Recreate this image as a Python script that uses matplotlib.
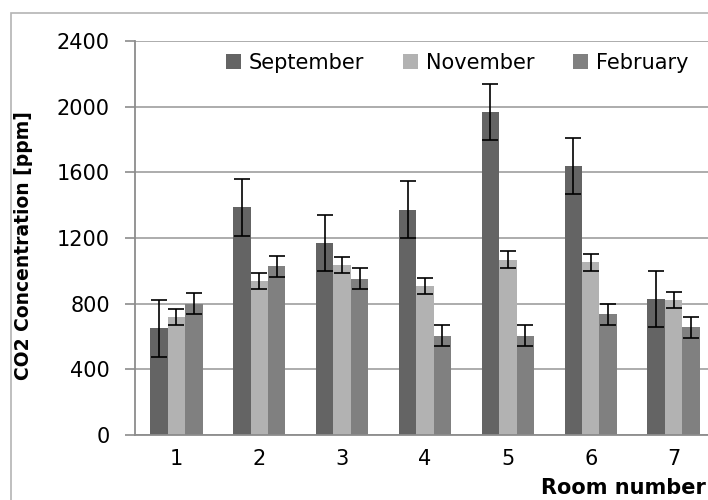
import numpy as np
import matplotlib.pyplot as plt
from matplotlib.patches import Rectangle

rooms = ['1', '2', '3', '4', '5', '6', '7']
series = ['September', 'November', 'February']
september = [650, 1387, 1170, 1373, 1969, 1638, 828]
november = [720, 938, 1035, 907, 1069, 1051, 822]
february = [800, 1027, 952, 605, 605, 735, 656]
sep_err = [172, 172, 172, 172, 172, 172, 172]
nov_err = [49, 50, 49, 49, 49, 49, 50]
feb_err = [64, 64, 63, 63, 63, 65, 63]

colors = ['#646464', '#b2b2b2', '#808080']

plt.rcParams['font.family'] = ['DejaVu Sans']

fig = plt.figure(figsize=(7.08, 5.0), dpi=100)
# outer chart frame (cropped on right/bottom like the original)
fig.patches.append(Rectangle((11 / 708, -0.1), 1.2, 1.1 - 13 / 500,
                             transform=fig.transFigure, fill=False,
                             edgecolor='#b4b4b4', linewidth=1.2))

ax = fig.add_axes([135 / 708, 1 - 435 / 500, 580 / 708, 394 / 500])

x = np.arange(1, len(rooms) + 1)
w = 0.21
data = [september, november, february]
errs = [sep_err, nov_err, feb_err]
for i, (vals, e, c, name) in enumerate(zip(data, errs, colors, series)):
    ax.bar(x + (i - 1) * w, vals, w, color=c, label=name, zorder=2,
           yerr=e, capsize=5.5,
           error_kw=dict(ecolor='black', elinewidth=1.2, capthick=1.2))

ax.set_xlim(0.5, 7.5)
ax.set_ylim(0, 2400)
ax.set_yticks(np.arange(0, 2401, 400))
ax.set_xticks(x)
ax.set_xticklabels(rooms)
ax.yaxis.grid(True, color='#a6a6a6', linewidth=1.3, zorder=0)
ax.set_axisbelow(True)
for s in ['top', 'right']:
    ax.spines[s].set_visible(False)
for s in ['left', 'bottom']:
    ax.spines[s].set_color('#8c8c8c')
    ax.spines[s].set_linewidth(1.3)
ax.tick_params(axis='y', length=7, width=1.2, color='#8c8c8c', pad=11, labelsize=15)
ax.tick_params(axis='x', length=0, pad=10, labelsize=15)

ax.set_ylabel('CO2 Concentration [ppm]', fontsize=13.5, fontweight='bold')
ax.yaxis.set_label_coords(-(135 - 33) / 580, 0.48)
fig.text(0.997, 1 - 488 / 500, 'Room number', fontsize=15, fontweight='bold',
         ha='right', va='center')

ax.legend(loc='center right', bbox_to_anchor=(688 / 708, 1 - 63 / 500),
          bbox_transform=fig.transFigure, ncol=3, frameon=False, fontsize=15,
          handlelength=0.75, handleheight=0.75, handletextpad=0.35,
          columnspacing=1.85, borderaxespad=0, borderpad=0)

plt.savefig('out.png', dpi=100)
